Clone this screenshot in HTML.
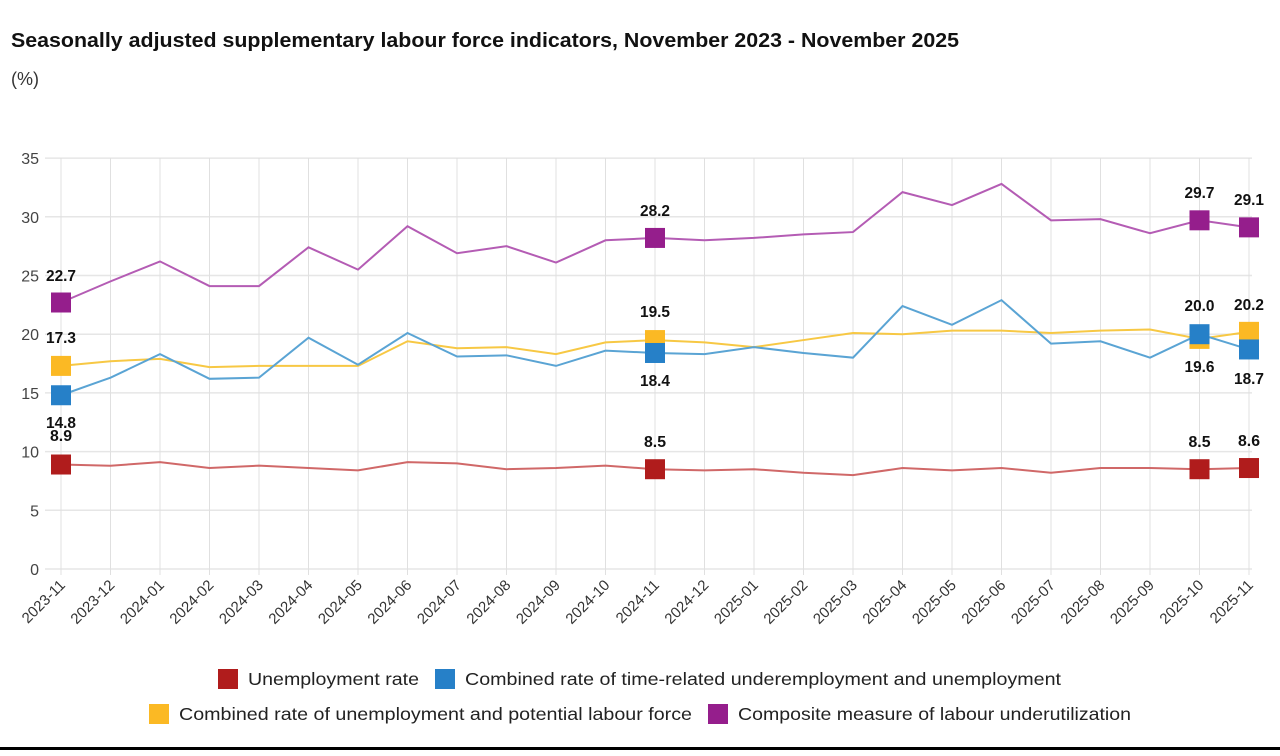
<!DOCTYPE html>
<html><head><meta charset="utf-8"><style>
body{margin:0;background:#fff;width:1280px;height:751px;overflow:hidden;font-family:"Liberation Sans",sans-serif}
</style></head><body>
<svg id="s" width="1280" height="751" xmlns="http://www.w3.org/2000/svg" font-family="Liberation Sans, sans-serif">
<text x="11" y="47" font-size="20" font-weight="bold" fill="#111" textLength="948" lengthAdjust="spacingAndGlyphs">Seasonally adjusted supplementary labour force indicators, November 2023 - November 2025</text>
<text x="11" y="85" font-size="18" fill="#333">(%)</text>
<line x1="0" y1="748.5" x2="1280" y2="748.5" stroke="#000" stroke-width="3"/>
</svg>
<script>
const s=document.getElementById('s');const NS='http://www.w3.org/2000/svg';
function el(t,a,txt){const e=document.createElementNS(NS,t);for(const k in a)e.setAttribute(k,a[k]);if(txt!==undefined)e.textContent=txt;s.appendChild(e);return e;}
const X=i=>61+i*49.5, Y=v=>569-v*11.74;
for(let v=0;v<=35;v+=5){el('line',{x1:45,x2:1252,y1:Y(v),y2:Y(v),stroke:'#e6e6e6','stroke-width':1.5});el('text',{x:39,y:Y(v)+6,'font-size':16,fill:'#444','text-anchor':'end'},v);}
const labs=[];for(let i=0;i<25;i++){const m=(10+i)%12+1,y=2023+Math.floor((10+i)/12);labs.push(y+'-'+String(m).padStart(2,'0'));}
labs.forEach((l,i)=>{el('line',{x1:X(i),x2:X(i),y1:158,y2:575,stroke:'#e0e0e0','stroke-width':1});el('text',{x:X(i)+5,y:586,'font-size':15,fill:'#333','text-anchor':'end',transform:`rotate(-45 ${X(i)+5} 586)`},l);});
const P=[22.7,24.5,26.2,24.1,24.1,27.4,25.5,29.2,26.9,27.5,26.1,28.0,28.2,28.0,28.2,28.5,28.7,32.1,31.0,32.8,29.7,29.8,28.6,29.7,29.1];
const B=[14.8,16.3,18.3,16.2,16.3,19.7,17.4,20.1,18.1,18.2,17.3,18.6,18.4,18.3,18.9,18.4,18.0,22.4,20.8,22.9,19.2,19.4,18.0,20.0,18.7];
const Yl=[17.3,17.7,17.9,17.2,17.3,17.3,17.3,19.4,18.8,18.9,18.3,19.3,19.5,19.3,18.9,19.5,20.1,20.0,20.3,20.3,20.1,20.3,20.4,19.6,20.2];
const R=[8.9,8.8,9.1,8.6,8.8,8.6,8.4,9.1,9.0,8.5,8.6,8.8,8.5,8.4,8.5,8.2,8.0,8.6,8.4,8.6,8.2,8.6,8.6,8.5,8.6];
const ser=[[R,'#d06868','#b01c1c'],[Yl,'#f7c844','#fbb924'],[B,'#5aa4d4','#2680c8'],[P,'#b45cb4','#951e8c']];
ser.forEach(([d,lc])=>el('polyline',{points:d.map((v,i)=>X(i)+','+Y(v)).join(' '),fill:'none',stroke:lc,'stroke-width':2}));
const mk=[0,12,23,24];
ser.forEach(([d,lc,mc])=>mk.forEach(i=>el('rect',{x:X(i)-10,y:Y(d[i])-10,width:20,height:20,fill:mc})));
function lab(i,y,t){el('text',{x:X(i),y:y,'font-size':16,'font-weight':'bold',fill:'#111','text-anchor':'middle',textLength:t.length>3?30:22,lengthAdjust:'spacingAndGlyphs'},t);}
lab(0,281,'22.7');lab(0,343,'17.3');lab(0,428,'14.8');lab(0,441,'8.9');
lab(12,216,'28.2');lab(12,317,'19.5');lab(12,386,'18.4');lab(12,447,'8.5');
lab(23,198,'29.7');lab(23,311,'20.0');lab(23,372,'19.6');lab(23,447,'8.5');
lab(24,205,'29.1');lab(24,310,'20.2');lab(24,384,'18.7');lab(24,446,'8.6');
function leg(x,y,c,t,w){el('rect',{x:x,y:y-10,width:20,height:20,fill:c});el('text',{x:x+30,y:y+6,'font-size':17.5,fill:'#222',textLength:w,lengthAdjust:'spacingAndGlyphs'},t);}
leg(218,679,'#b01c1c','Unemployment rate',171);leg(435,679,'#2680c8','Combined rate of time-related underemployment and unemployment',596);
leg(149,714,'#fbb924','Combined rate of unemployment and potential labour force',513);leg(708,714,'#951e8c','Composite measure of labour underutilization',393);
</script>
</body></html>
